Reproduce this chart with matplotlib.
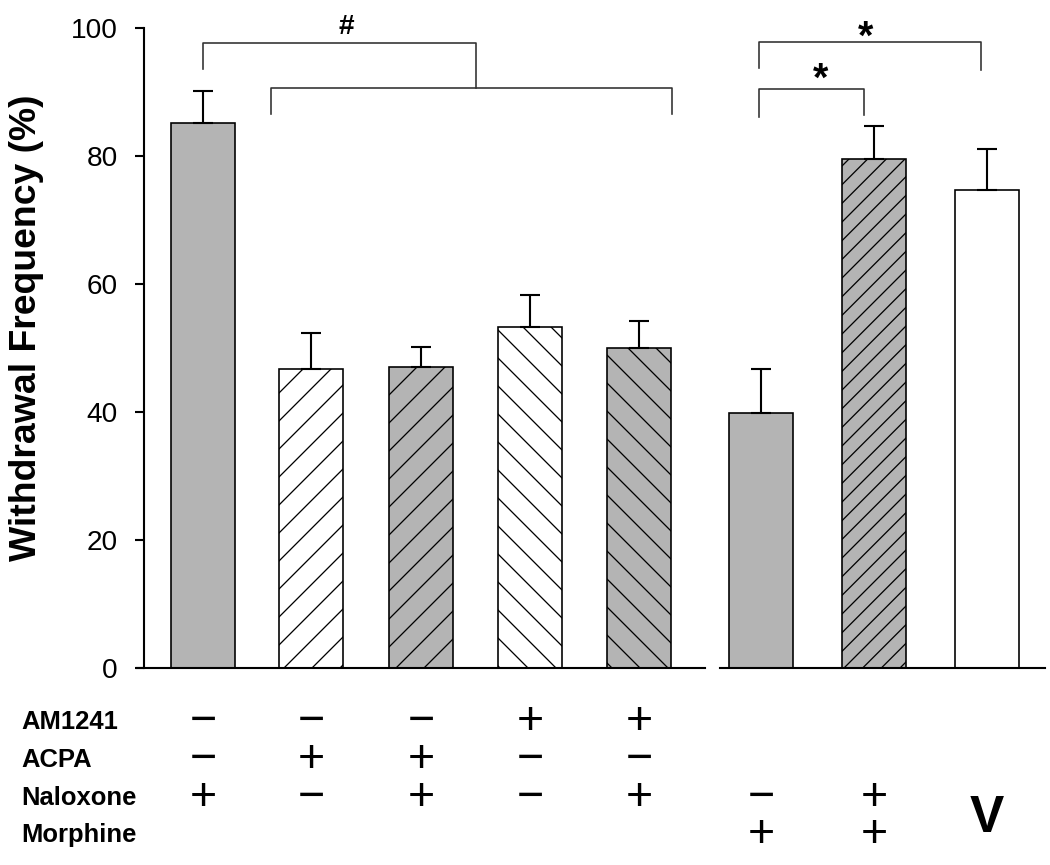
import numpy as np
import matplotlib
matplotlib.use("Agg")
import matplotlib.pyplot as plt

plt.rcParams['font.family'] = ['Liberation Sans', 'DejaVu Sans']
plt.rcParams['hatch.linewidth'] = 0.55

# данные
means = [85.1, 46.7, 47.0, 53.3, 50.0, 39.8, 79.6, 74.7]
sems = [5.0, 5.6, 3.2, 5.0, 4.2, 6.9, 5.1, 6.4]
fills = ['#b4b4b4', 'white', '#b4b4b4', 'white', '#b4b4b4', '#b4b4b4', '#b4b4b4', 'white']
hatches = ['', '//', '//', '\\\\', '\\\\', '', '///', '']
positions = [0, 0.986, 1.991, 2.986, 3.982, 5.096, 6.128, 7.160]

row_names = ['AM1241', 'ACPA', 'Naloxone', 'Morphine']
am1241 = ['−', '−', '−', '+', '+', '', '', '']
acpa = ['−', '+', '+', '−', '−', '', '', '']
naloxone = ['+', '−', '+', '−', '+', '−', '+', '']
morphine = ['', '', '', '', '', '+', '+', '']

W, H, DPI = 1050, 865, 168
fig = plt.figure(figsize=(W / DPI, H / DPI), dpi=DPI)
ax = fig.add_axes([144 / W, 1 - 668 / H, (1045 - 144) / W, 640 / H])

ax.bar(positions, means, width=0.59, color=fills, edgecolor='black',
       linewidth=0.7, hatch=hatches, zorder=2)
ax.errorbar(positions, means, yerr=[np.zeros(len(means)), sems], fmt='none',
            ecolor='black', elinewidth=0.9, capsize=4.1, capthick=0.9, zorder=3)

ax.set_xlim(-0.539, 7.689)
ax.set_ylim(0, 100)
ax.set_yticks([0, 20, 40, 60, 80, 100])
ax.set_xticks([])
for s in ['top', 'right', 'bottom']:
    ax.spines[s].set_visible(False)
ax.spines['left'].set_linewidth(0.9)
ax.tick_params(axis='y', direction='out', length=3.9, width=0.9, pad=7.3,
               labelsize=12)

# базовая линия с разрывом
ax.plot([-0.603, 4.584], [0, 0], color='black', lw=0.9, clip_on=False, zorder=4)
ax.plot([4.721, 7.689], [0, 0], color='black', lw=0.9, clip_on=False, zorder=4)

fig.text(27 / W, 1 - 328 / H, 'Withdrawal Frequency (%)', rotation=90,
         ha='center', va='center', fontsize=16, fontweight='bold')

# скобки значимости
bc = '#333333'
blw = 0.7
def bracket(x1, x2, y, y1, y2):
    ax.plot([x1, x1, x2, x2], [y1, y, y, y2], color=bc, lw=blw, clip_on=False)

bracket(0.0, 2.49, 97.7, 93.6, 90.6)
bracket(0.62, 4.28, 90.6, 86.6, 86.6)
bracket(5.08, 7.10, 97.8, 93.75, 93.4)
bracket(5.08, 6.04, 90.5, 86.1, 86.4)
ax.text(1.31, 100.2, '#', ha='center', va='center', fontsize=12,
        fontweight='bold', clip_on=False)
ax.text(6.05, 98.5, '*', ha='center', va='center', fontsize=17,
        fontweight='bold', clip_on=False)
ax.text(5.64, 91.9, '*', ha='center', va='center', fontsize=17,
        fontweight='bold', clip_on=False)

# таблица условий
row_y = [(668 - 722) / 640, (668 - 760) / 640, (668 - 798) / 640, (668 - 835) / 640]
trans = ax.get_xaxis_transform()
for name, yy, signs in zip(row_names, row_y, [am1241, acpa, naloxone, morphine]):
    ax.text(-0.1365, yy, name, transform=ax.transAxes, ha='left', va='center',
            fontsize=11, fontweight='bold', clip_on=False)
    for xp, sg in zip(positions, signs):
        if sg:
            ax.text(xp, yy, sg, transform=trans, ha='center', va='center',
                    fontsize=20, clip_on=False)
ax.text(positions[7], (668 - 818) / 640, 'V', transform=trans, ha='center',
        va='center', fontsize=22, fontweight='bold', clip_on=False)

fig.savefig('out.png', dpi=DPI)
